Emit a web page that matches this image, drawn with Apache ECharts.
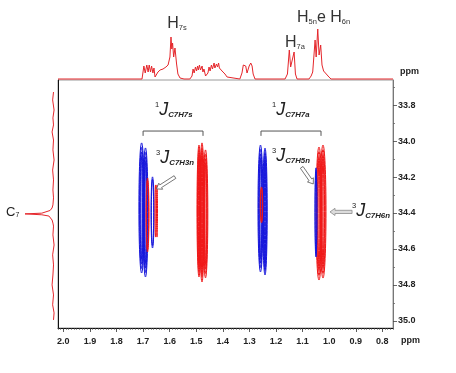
<!DOCTYPE html>
<html>
<head>
<meta charset="utf-8">
<script src="https://cdn.jsdelivr.net/npm/echarts@6/dist/echarts.min.js"></script>
<style>html,body{margin:0;padding:0;background:#fff}#c{width:456px;height:373px}</style>
</head>
<body>
<div id="c"></div>
<script>
// ---------- DATA ----------
// 1H projection (top): chemical shift (ppm) and relative intensity
const protonPpm = [2.02,1.704,1.700,1.697,1.692,1.686,1.681,1.677,1.672,1.668,1.663,1.659,1.655,1.651,1.644,1.636,1.625,1.614,1.606,1.599,1.595,1.592,1.589,1.585,1.580,1.574,1.569,1.561,1.546,1.524,1.516,1.512,1.508,1.503,1.499,1.495,1.492,1.488,1.484,1.478,1.475,1.471,1.465,1.460,1.456,1.452,1.448,1.443,1.439,1.433,1.430,1.424,1.420,1.416,1.413,1.407,1.403,1.398,1.392,1.384,1.377,1.336,1.328,1.323,1.319,1.314,1.309,1.305,1.301,1.295,1.290,1.286,1.279,1.166,1.157,1.150,1.145,1.138,1.132,1.127,1.121,1.076,1.068,1.062,1.058,1.053,1.049,1.043,1.038,1.032,1.027,1.021,1.016,1.011,1.006,1.001,0.993,0.760];
const protonInt = [0,0,0,26,12,28,14,28,14,26,12,22,4,8,14,18,20,24,28,44,84,60,72,44,62,30,10,2,0,0,6,20,12,24,16,26,18,28,18,26,14,20,6,6,12,24,16,28,20,32,22,30,24,32,22,26,16,18,10,4,0,0,12,28,32,26,12,10,26,32,26,10,0,0,10,58,24,22,54,10,0,0,6,14,10,78,44,100,48,68,28,16,18,10,14,4,0,0];

// 13C projection (left): chemical shift (ppm) and relative intensity
const carbonPpm = [33.727,33.771,33.827,33.871,33.910,33.949,33.994,34.049,34.105,34.161,34.216,34.272,34.316,34.355,34.372,34.386,34.394,34.401,34.405,34.410,34.417,34.428,34.439,34.456,34.473,34.522,34.578,34.633,34.689,34.745,34.800,34.856,34.911,34.956,34.995];
const carbonInt = [0,3,-2,2,0,5,0,2,-2,3,0,2,0,2,5,12,16,41,100,41,16,12,5,2,0,2,-2,3,0,2,5,0,3,-2,0];

// 2D cross-peak lobes: 1H shift, 13C shift, half-width (ppm), half-height (ppm), phase (+1 red / -1 blue), contour levels
const lobeH     = [1.7055,1.691,1.6645,1.6833,1.6533,1.6476,1.4897,1.4784,1.4652,1.2584,1.2414,1.2546,1.0384,1.0233,1.0497];
const lobeC     = [34.372,34.397,34.397,34.411,34.389,34.389,34.389,34.397,34.405,34.375,34.392,34.355,34.403,34.392,34.397];
const lobeHalfW = [0.0102,0.0094,0.0056,0.0056,0.0019,0.0019,0.0075,0.0083,0.0087,0.0094,0.0083,0.0045,0.0113,0.0113,0.0038];
const lobeHalfH = [0.362,0.359,0.198,0.206,0.145,0.145,0.367,0.387,0.356,0.353,0.353,0.100,0.370,0.370,0.248];
const lobePhase = [-1,-1,-1,1,1,1,1,1,1,-1,-1,1,1,1,-1];
const lobeLevels= [4,4,2,2,1,1,4,4,4,4,4,2,4,4,2];

// Tick labels
const xTickLabels = [2.0,1.9,1.8,1.7,1.6,1.5,1.4,1.3,1.2,1.1,1.0,0.9,0.8];
const yTickLabels = [33.8,34.0,34.2,34.4,34.6,34.8,35.0];
const yMinorTicks = [33.7,33.9,34.1,34.3,34.5,34.7,34.9];

// Annotation texts
const protonLabelText = [['H','7s'],['H','7a'],['H','5n','e H','6n']];
const couplingSup = ['1','1','3','3','3'];
const couplingSub = ['C7H7s','C7H7a','C7H3n','C7H5n','C7H6n'];

// ---------- CHART ----------
const FONT = 'Liberation Sans, Arial, sans-serif';
const RED = '#f01818', BLUE = '#1616dc', SPEC = '#e5262b';
const X0 = 0.76, X1 = 2.02, Y0 = 33.66, Y1 = 35.04;

const chart = echarts.init(document.getElementById('c'), null, {renderer: 'canvas'});

const lobeData = lobeH.map((h, i) => [h, lobeC[i], lobeHalfW[i] * 2, lobeHalfH[i] * 2, lobePhase[i], lobeLevels[i]]);

// annotation anchors (ppm)
const protonLabelPos = [[1.609, 110], [1.166, 73], [1.121, 122]];
const couplingPos = [[1.655, 33.827], [1.215, 33.827], [1.651, 34.094], [1.215, 34.083], [0.914, 34.389]];
const bracketPos = [[1.700, 1.4746, 33.944, 33.971], [1.2565, 1.0308, 33.944, 33.971]];
const arrowPos = [
  [1.580, 34.200, 1.6495, 34.266, 'line'],
  [1.1034, 34.146, 1.0598, 34.2385, 'line'],
  [0.914, 34.394, 0.997, 34.394, 'fill']
];

function arrowShape(t, h, filled) {
  const dx = h[0] - t[0], dy = h[1] - t[1];
  const L = Math.sqrt(dx * dx + dy * dy);
  const ux = dx / L, uy = dy / L, nx = -uy, ny = ux;
  const w = 1.6, hw = 3.6, hl = 5;
  const bx = h[0] - ux * hl, by = h[1] - uy * hl;
  const pts = [
    [t[0] + nx * w, t[1] + ny * w], [bx + nx * w, by + ny * w], [bx + nx * hw, by + ny * hw], h,
    [bx - nx * hw, by - ny * hw], [bx - nx * w, by - ny * w], [t[0] - nx * w, t[1] - ny * w]
  ];
  return {type: 'polygon', shape: {points: pts},
    style: {fill: filled ? '#dcdcdc' : '#fff', stroke: filled ? '#8a8a8a' : '#555', lineWidth: 0.8}};
}

const option = {
  animation: false,
  backgroundColor: '#fff',
  grid: [
    {left: 58, right: 63, top: 80, bottom: 45, show: true, borderColor: '#9a9a9a', borderWidth: 1, backgroundColor: 'transparent'},
    {left: 58, right: 63, top: 29, height: 50},
    {left: 25, right: 399.65, top: 80, bottom: 45}
  ],
  xAxis: [
    {gridIndex: 0, type: 'value', min: X0, max: X1, interval: 0.01, inverse: true, position: 'bottom',
     axisLine: {show: true, lineStyle: {color: '#111', width: 1}},
     axisTick: {show: true, length: 2, lineStyle: {color: '#555', width: 0.6}},
     axisLabel: {show: false}, splitLine: {show: false}},
    {gridIndex: 0, type: 'value', min: X0, max: X1, inverse: true, position: 'bottom',
     axisLine: {show: false},
     axisTick: {show: true, length: 4, customValues: xTickLabels, lineStyle: {color: '#333', width: 0.8}},
     axisLabel: {show: true, customValues: xTickLabels, formatter: v => Number(v).toFixed(1), margin: 9,
       fontFamily: FONT, fontSize: 9, fontWeight: 'bold', color: '#222'},
     splitLine: {show: false}},
    {gridIndex: 1, type: 'value', min: X0, max: X1, inverse: true, show: false},
    {gridIndex: 2, type: 'value', min: -10, max: 100, inverse: true, show: false}
  ],
  yAxis: [
    {gridIndex: 0, type: 'value', min: Y0, max: Y1, inverse: true, position: 'right',
     axisLine: {show: true, lineStyle: {color: '#777', width: 1}},
     axisTick: {show: true, length: 4, customValues: yTickLabels, lineStyle: {color: '#444', width: 0.8}},
     axisLabel: {show: true, customValues: yTickLabels, formatter: v => Number(v).toFixed(1), margin: 5,
       fontFamily: FONT, fontSize: 9, fontWeight: 'bold', color: '#222'},
     splitLine: {show: false}},
    {gridIndex: 0, type: 'value', min: Y0, max: Y1, inverse: true, position: 'right',
     axisLine: {show: false},
     axisTick: {show: true, length: 2, customValues: yMinorTicks, lineStyle: {color: '#666', width: 0.8}},
     axisLabel: {show: false}, splitLine: {show: false}},
    {gridIndex: 0, type: 'value', min: Y0, max: Y1, inverse: true, position: 'left',
     axisLine: {show: true, lineStyle: {color: '#111', width: 1}},
     axisTick: {show: false}, axisLabel: {show: false}, splitLine: {show: false}},
    {gridIndex: 1, type: 'value', min: 0, max: 100, show: false},
    {gridIndex: 2, type: 'value', min: Y0, max: Y1, inverse: true, show: false}
  ],
  graphic: [
    {type: 'text', left: 400, top: 67, style: {text: 'ppm', font: 'bold 9px ' + FONT, fill: '#222'}},
    {type: 'text', left: 401, top: 336, style: {text: 'ppm', font: 'bold 9px ' + FONT, fill: '#222'}},
    {type: 'text', left: 6, top: 206, style: {text: '{c|C}{s|7}', rich: {
      c: {fontFamily: FONT, fontSize: 13, fill: '#222'},
      s: {fontFamily: FONT, fontSize: 7, fill: '#222', verticalAlign: 'bottom'}}}}
  ],
  series: [
    {type: 'line', xAxisIndex: 2, yAxisIndex: 3, data: protonPpm.map((p, i) => [p, protonInt[i]]),
     showSymbol: false, symbol: 'none', clip: false, lineStyle: {color: SPEC, width: 1}, z: 3},
    {type: 'line', xAxisIndex: 3, yAxisIndex: 4, data: carbonPpm.map((p, i) => [carbonInt[i], p]),
     showSymbol: false, symbol: 'none', clip: false, lineStyle: {color: SPEC, width: 1}, z: 3},
    {type: 'custom', xAxisIndex: 0, yAxisIndex: 0, data: lobeData, z: 4,
     renderItem: function (params, api) {
       const c = api.coord([api.value(0), api.value(1)]);
       const s = api.size([api.value(2), api.value(3)], [api.value(0), api.value(1)]);
       const n = api.value(5);
       const col = api.value(4) > 0 ? RED : BLUE;
       const ch = [];
       for (let k = 0; k < n; k++) {
         const fx = 1 - k * 0.24, fy = 1 - k * 0.07;
         ch.push({type: 'ellipse', shape: {cx: c[0], cy: c[1], rx: Math.max(0.4, s[0] / 2 * fx), ry: s[1] / 2 * fy},
           style: {fill: 'none', stroke: col, lineWidth: 1}});
       }
       return {type: 'group', children: ch};
     }},
    {type: 'custom', xAxisIndex: 0, yAxisIndex: 0, data: bracketPos, z: 5,
     renderItem: function (params, api) {
       const b = bracketPos[params.dataIndex];
       const p1 = api.coord([b[0], b[3]]), p2 = api.coord([b[0], b[2]]), p3 = api.coord([b[1], b[2]]), p4 = api.coord([b[1], b[3]]);
       return {type: 'polyline', shape: {points: [p1, p2, p3, p4]}, style: {fill: 'none', stroke: '#555', lineWidth: 1}};
     }},
    {type: 'custom', xAxisIndex: 0, yAxisIndex: 0, data: arrowPos.map(a => [a[0], a[1]]), z: 6,
     renderItem: function (params, api) {
       const a = arrowPos[params.dataIndex];
       return arrowShape(api.coord([a[0], a[1]]), api.coord([a[2], a[3]]), a[4] === 'fill');
     }},
    {type: 'custom', xAxisIndex: 0, yAxisIndex: 0, data: couplingPos, z: 7,
     renderItem: function (params, api) {
       const i = params.dataIndex;
       const c = api.coord(couplingPos[i]);
       return {type: 'text', x: c[0], y: c[1], style: {
         text: '{s|' + couplingSup[i] + '}{j|J}{b|' + couplingSub[i] + '}',
         align: 'left', verticalAlign: 'middle',
         rich: {
           s: {fontFamily: FONT, fontSize: 7.5, fill: '#222', verticalAlign: 'top'},
           j: {fontFamily: FONT, fontSize: 18, fontStyle: 'italic', fill: '#222'},
           b: {fontFamily: FONT, fontSize: 7.8, fontStyle: 'italic', fontWeight: 'bold', fill: '#222', verticalAlign: 'bottom'}
         }}};
     }},
    {type: 'custom', xAxisIndex: 2, yAxisIndex: 3, data: protonLabelPos, z: 7, clip: false,
     renderItem: function (params, api) {
       const i = params.dataIndex;
       const c = api.coord(protonLabelPos[i]);
       const parts = protonLabelText[i];
       let txt = '';
       parts.forEach((p, k) => { txt += (k % 2 === 0 ? '{h|' : '{s|') + p + '}'; });
       return {type: 'text', x: c[0], y: c[1], style: {
         text: txt, align: 'left', verticalAlign: 'middle',
         rich: {
           h: {fontFamily: FONT, fontSize: 16, fill: '#333'},
           s: {fontFamily: FONT, fontSize: 7.5, fill: '#333', verticalAlign: 'bottom'}
         }}};
     }}
  ]
};
chart.setOption(option);
</script>
</body>
</html>
